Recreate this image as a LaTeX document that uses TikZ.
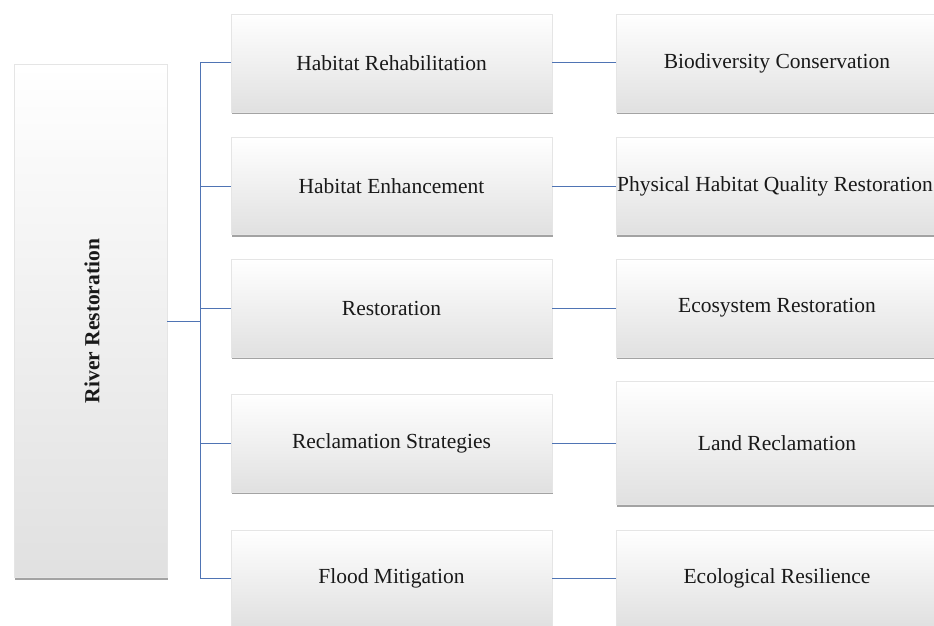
\documentclass[tikz,border=0pt]{standalone}
\usepackage{fontspec}
\setmainfont{Liberation Serif}
\usetikzlibrary{shadows}
\definecolor{linkblue}{HTML}{4F74B4}
\tikzset{
  box/.style={draw=black!10, line width=0.4pt, top color=white, middle color=white, bottom color=black!12,
    drop shadow={shadow xshift=1pt, shadow yshift=-2pt, opacity=0.6, fill=black!60},
    font=\fontsize{21.5}{24}\selectfont, text=black!90, inner sep=0pt, align=center},
  link/.style={draw=linkblue, line width=1pt},
}
\begin{document}
\begin{tikzpicture}[x=1pt,y=-1pt]
\useasboundingbox (0,0) rectangle (934,626);
% root
\node[box, minimum width=153pt, minimum height=513pt] (root) at (90.5,321) {};
\node[rotate=90, font=\fontsize{21.5}{24}\selectfont\bfseries, text=black!90] (roottxt) at (92,321) {River Restoration};
% column 1
\node[box, minimum width=321pt, minimum height=98pt] (a1) at (391.5,63) {Habitat Rehabilitation};
\node[box, minimum width=321pt, minimum height=97pt] (a2) at (391.5,186) {Habitat Enhancement};
\node[box, minimum width=321pt, minimum height=98pt] (a3) at (391.5,308) {Restoration};
\node[box, minimum width=321pt, minimum height=98pt] (a4) at (391.5,443) {Reclamation Strategies};
\node[box, minimum width=321pt, minimum height=96pt] (a5) at (391.5,578) {Flood Mitigation};
% column 2
\node[box, minimum width=322pt, minimum height=98pt] (b1) at (777,63) {Biodiversity Conservation};
\node[box, minimum width=322pt, minimum height=97pt] (b2) at (777,186) {\hspace*{-4pt}Physical Habitat Quality Restoration};
\node[box, minimum width=322pt, minimum height=98pt] (b3) at (777,308) {Ecosystem Restoration};
\node[box, minimum width=322pt, minimum height=123pt] (b4) at (777,443) {Land Reclamation};
\node[box, minimum width=322pt, minimum height=96pt] (b5) at (777,578) {Ecological Resilience};
% connectors
\coordinate (bus) at (200,321);
\draw[link] (root.east) -- (bus);
\foreach \i in {1,...,5}{\draw[link] (a\i.west) -| (bus);}
\foreach \i in {1,...,5}{\draw[link] (a\i.east) -- (b\i.west |- a\i.east);}
\end{tikzpicture}
\end{document}
